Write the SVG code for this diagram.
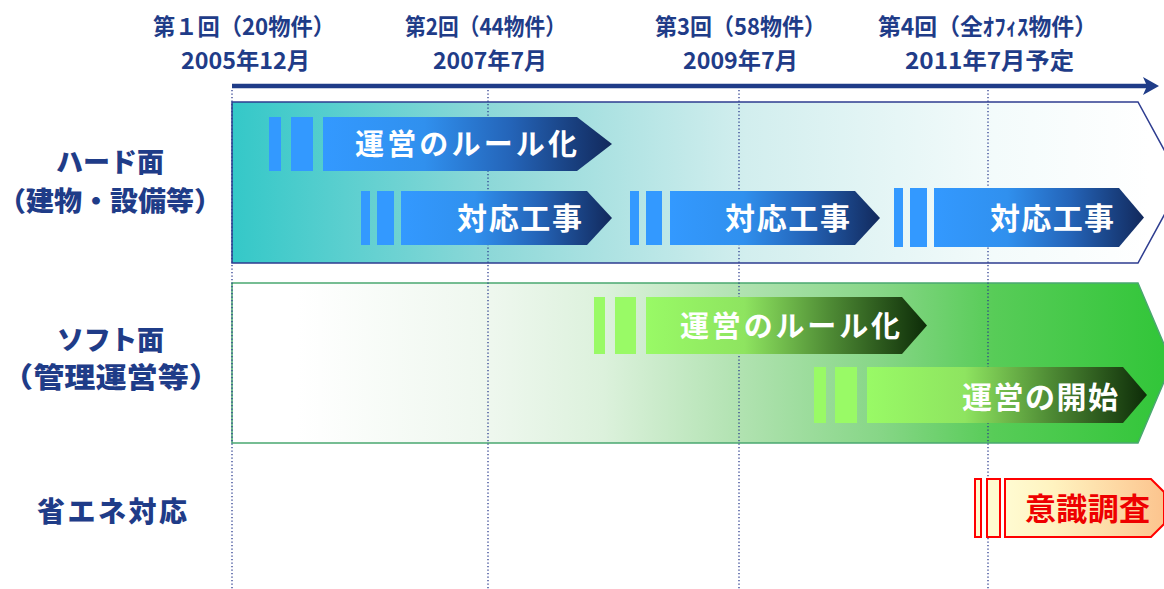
<svg xmlns="http://www.w3.org/2000/svg" width="1164" height="589" viewBox="0 0 1164 589">
<defs>
<linearGradient id="gHard" gradientUnits="userSpaceOnUse" x1="232" y1="0" x2="1150" y2="0">
<stop offset="0" stop-color="#34c8c8"/>
<stop offset="0.28" stop-color="#8dd8d8"/>
<stop offset="0.56" stop-color="#d2eeee"/>
<stop offset="0.83" stop-color="#f3fbfb"/>
<stop offset="1" stop-color="#ffffff"/>
</linearGradient>
<linearGradient id="gSoft" gradientUnits="userSpaceOnUse" x1="232" y1="0" x2="1160" y2="0">
<stop offset="0" stop-color="#ffffff"/>
<stop offset="0.07" stop-color="#ffffff"/>
<stop offset="0.28" stop-color="#eef7ee"/>
<stop offset="0.4" stop-color="#dcf1dc"/>
<stop offset="0.55" stop-color="#b0e2b0"/>
<stop offset="0.7" stop-color="#86d686"/>
<stop offset="0.82" stop-color="#58cc58"/>
<stop offset="1" stop-color="#33c63a"/>
</linearGradient>
<linearGradient id="gBlue" x1="0" y1="0" x2="1" y2="0">
<stop offset="0" stop-color="#3399ff"/>
<stop offset="0.35" stop-color="#3090ee"/>
<stop offset="0.65" stop-color="#2464b8"/>
<stop offset="1" stop-color="#12295c"/>
</linearGradient>
<linearGradient id="gGreen" x1="0" y1="0" x2="1" y2="0">
<stop offset="0" stop-color="#99fa66"/>
<stop offset="0.35" stop-color="#8ee460"/>
<stop offset="0.65" stop-color="#4f8c35"/>
<stop offset="1" stop-color="#0d2c08"/>
</linearGradient>
<linearGradient id="gRed" x1="0" y1="0" x2="1" y2="0">
<stop offset="0" stop-color="#fffbd2"/>
<stop offset="0.3" stop-color="#fff3c0"/>
<stop offset="1" stop-color="#fcc48e"/>
</linearGradient>
<style>
.hd{font-family:"Noto Sans CJK JP","Noto Sans",sans-serif;font-weight:700;fill:#1f3c88;font-size:23px}
.lbl{font-family:"Noto Sans CJK JP","Noto Sans",sans-serif;font-weight:900;fill:#1f3c88;font-size:27px}
.wt{font-family:"Noto Sans CJK JP","Noto Sans",sans-serif;font-weight:700;fill:#ffffff;font-size:29px}
.rt{font-family:"Noto Sans CJK JP","Noto Sans",sans-serif;font-weight:700;fill:#ee0000;font-size:31px}
.dot{stroke:#2b3c8f;stroke-width:1.3;stroke-dasharray:1.3 2.2;fill:none}
.bb{fill:#3399ff}
.gb{fill:#99fa66}
.rb{fill:#fffbd0;stroke:#ff0000;stroke-width:2}
</style>
</defs>
<rect width="1164" height="589" fill="#ffffff"/>

<g id="headers">
<g id="round-1"><text class="hd" x="153" y="35" textLength="182" lengthAdjust="spacingAndGlyphs">第１回（20物件）</text><text class="hd" x="181" y="69" textLength="129" lengthAdjust="spacingAndGlyphs">2005年12月</text></g>
<g id="round-2"><text class="hd" x="405" y="35" textLength="161" lengthAdjust="spacingAndGlyphs">第2回（44物件）</text><text class="hd" x="433" y="69" textLength="114" lengthAdjust="spacingAndGlyphs">2007年7月</text></g>
<g id="round-3"><text class="hd" x="655" y="35" textLength="171" lengthAdjust="spacingAndGlyphs">第3回（58物件）</text><text class="hd" x="683" y="69" textLength="115" lengthAdjust="spacingAndGlyphs">2009年7月</text></g>
<g id="round-4"><text class="hd" x="878" y="35" textLength="219" lengthAdjust="spacingAndGlyphs">第4回（全ｵﾌｨｽ物件）</text><text class="hd" x="905" y="69" textLength="169" lengthAdjust="spacingAndGlyphs">2011年7月予定</text></g>
</g>

<g id="timeline">
<line x1="232" y1="86" x2="1148" y2="86" stroke="#1f3c88" stroke-width="4.5"/>
<polygon points="1143,77 1159,86 1143,95 1147,86" fill="#1f3c88"/>
</g>

<g id="panel-hard">
<polygon points="232,102 1138,102 1182,182.5 1138,263 232,263" fill="url(#gHard)" stroke="#2e3d90" stroke-width="1.5"/>
</g>
<g id="panel-soft">
<polygon points="232,283 1138,283 1172,363 1138,443 232,443" fill="url(#gSoft)" stroke="#4aa870" stroke-width="1.5"/>
</g>

<g id="connectors">
<line class="dot" x1="232" y1="90" x2="232" y2="589"/>
<line class="dot" x1="488" y1="90" x2="488" y2="589"/>
<line class="dot" x1="739" y1="90" x2="739" y2="589"/>
<line class="dot" x1="988" y1="90" x2="988" y2="589"/>
</g>

<g id="labels">
<text class="lbl" x="56" y="172" textLength="108">ハード面</text>
<text class="lbl" x="-2" y="211" textLength="224" lengthAdjust="spacingAndGlyphs">（建物・設備等）</text>
<text class="lbl" x="57" y="350" textLength="107">ソフト面</text>
<text class="lbl" x="2" y="388" style="font-size:28px" textLength="218" lengthAdjust="spacingAndGlyphs">（管理運営等）</text>
<text class="lbl" x="37" y="522" style="font-size:28px" textLength="150">省エネ対応</text>
</g>

<g id="hard-rule">
<rect class="bb" x="269" y="117" width="12" height="54"/>
<rect class="bb" x="291" y="117" width="22" height="54"/>
<polygon points="323,117 577,117 612,144 577,171 323,171" fill="url(#gBlue)"/>
<text class="wt" x="355" y="155" textLength="222">運営のルール化</text>
</g>

<g id="hard-work-1">
<rect class="bb" x="361" y="191" width="9" height="54"/>
<rect class="bb" x="377" y="191" width="17" height="54"/>
<polygon points="401,191 587,191 612,218 587,245 401,245" fill="url(#gBlue)"/>
<text class="wt" x="457" y="229" style="font-size:30px" textLength="125">対応工事</text>
</g>

<g id="hard-work-2">
<rect class="bb" x="630" y="191" width="9" height="54"/>
<rect class="bb" x="646" y="191" width="16" height="54"/>
<polygon points="670,191 855,191 880,218 855,245 670,245" fill="url(#gBlue)"/>
<text class="wt" x="725" y="229" style="font-size:30px" textLength="125">対応工事</text>
</g>

<g id="hard-work-3">
<rect class="bb" x="894" y="188" width="9" height="59"/>
<rect class="bb" x="910" y="188" width="17" height="59"/>
<polygon points="934,188 1119,188 1144,217.5 1119,247 934,247" fill="url(#gBlue)"/>
<text class="wt" x="990" y="229" style="font-size:30px" textLength="124">対応工事</text>
</g>

<g id="soft-rule">
<rect class="gb" x="594" y="297" width="11" height="57"/>
<rect class="gb" x="615" y="297" width="21" height="57"/>
<polygon points="646,297 902,297 927,325.5 902,354 646,354" fill="url(#gGreen)"/>
<text class="wt" x="680" y="337" textLength="220">運営のルール化</text>
</g>

<g id="soft-start">
<rect class="gb" x="814" y="367" width="12" height="56"/>
<rect class="gb" x="835" y="367" width="22" height="56"/>
<polygon points="867,367 1123,367 1147,395 1123,423 867,423" fill="url(#gGreen)"/>
<text class="wt" x="962" y="408" style="font-size:30px" textLength="156">運営の開始</text>
</g>

<g id="energy-survey">
<rect class="rb" x="975" y="479" width="6" height="58"/>
<rect class="rb" x="987" y="479" width="13" height="58"/>
<polygon points="1005,479 1151,479 1164,492 1164,524 1151,537 1005,537" fill="url(#gRed)" stroke="#ff0000" stroke-width="2"/>
<text class="rt" x="1025" y="520" textLength="125">意識調査</text>
</g>
</svg>
